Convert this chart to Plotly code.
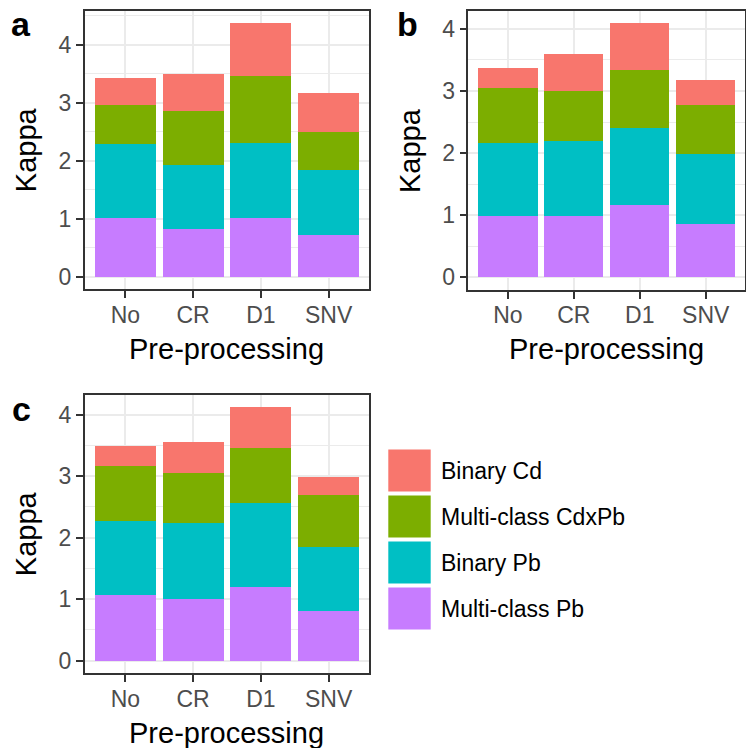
import plotly.graph_objects as go

categories = ["No", "CR", "D1", "SNV"]
series_names = ["Multi-class Pb", "Binary Pb", "Multi-class CdxPb", "Binary Cd"]  # bottom -> top
series_colors = ["#C77CFF", "#00BFC4", "#7CAE00", "#F8766D"]

# panel a
a_multi_pb = [1.02, 0.82, 1.02, 0.72]
a_binary_pb = [1.27, 1.10, 1.29, 1.12]
a_multi_cdxpb = [0.67, 0.93, 1.15, 0.66]
a_binary_cd = [0.46, 0.65, 0.91, 0.66]
# panel b
b_multi_pb = [0.99, 0.99, 1.16, 0.86]
b_binary_pb = [1.17, 1.20, 1.25, 1.12]
b_multi_cdxpb = [0.89, 0.81, 0.93, 0.80]
b_binary_cd = [0.32, 0.59, 0.75, 0.40]
# panel c
c_multi_pb = [1.07, 1.00, 1.19, 0.81]
c_binary_pb = [1.20, 1.24, 1.37, 1.04]
c_multi_cdxpb = [0.90, 0.81, 0.90, 0.85]
c_binary_cd = [0.32, 0.51, 0.66, 0.28]

panels = {
    "a": [a_multi_pb, a_binary_pb, a_multi_cdxpb, a_binary_cd],
    "b": [b_multi_pb, b_binary_pb, b_multi_cdxpb, b_binary_cd],
    "c": [c_multi_pb, c_binary_pb, c_multi_cdxpb, c_binary_cd],
}
y_ticks = [0, 1, 2, 3, 4]

W, H = 746, 748
def px(x):
    return x / W
def py(y):
    return 1 - y / H

FONT = "Liberation Sans, Arial, sans-serif"
# panel domains in pixels: (left, right, top, bottom)
boxes = {
    "a": (84.7, 369.3, 10.7, 289.3),
    "b": (468.3, 745.3, 10.7, 289.8),
    "c": (84.7, 369.3, 394.7, 673.3),
}

fig = go.Figure()
layout = dict(
    width=W, height=H, margin=dict(l=0, r=0, t=0, b=0),
    paper_bgcolor="white", plot_bgcolor="white",
    barmode="stack", bargap=0.1, showlegend=False,
    font=dict(family=FONT),
)
annotations = []
shapes = []

for i, (key, vals) in enumerate(panels.items()):
    n = "" if i == 0 else str(i + 1)
    xa, ya = "x" + n, "y" + n
    for name, color, v in zip(series_names, series_colors, vals):
        fig.add_trace(go.Bar(x=categories, y=v, name=name, marker=dict(color=color, line=dict(width=0)),
                             xaxis=xa, yaxis=ya, showlegend=False))
    totals = [sum(t) for t in zip(*vals)]
    ymax = max(totals)
    l, r, t, b = boxes[key]
    axis_common = dict(showline=True, mirror=True, linecolor="#333333", linewidth=1.5,
                       ticks="outside", ticklen=7, tickwidth=1.5, tickcolor="#333333",
                       tickfont=dict(family=FONT, size=23, color="#4D4D4D"),
                       showgrid=True, gridcolor="#EBEBEB", gridwidth=1.5, zeroline=False)
    layout["xaxis" + n] = dict(axis_common, domain=[px(l), px(r)], anchor=ya,
                               type="category", categoryorder="array", categoryarray=categories,
                               range=[-0.6, len(categories) - 0.4], ticklabelstandoff=-3)
    layout["yaxis" + n] = dict(axis_common, domain=[py(b), py(t)], anchor=xa,
                               range=[-0.05 * ymax, 1.05 * ymax], tickvals=y_ticks,
                               minor=dict(dtick=0.5, tick0=0, showgrid=True, gridcolor="#EBEBEB",
                                          gridwidth=0.8, ticks=""))
    cx = (l + r) / 2
    cy = (t + b) / 2
    annotations.append(dict(text="Pre-processing", xref="paper", yref="paper", x=px(cx), y=py(b + 59.5),
                            xanchor="center", yanchor="middle", showarrow=False,
                            font=dict(family=FONT, size=29, color="black")))
    annotations.append(dict(text="Kappa", xref="paper", yref="paper", x=px(l - 58.5), y=py(cy),
                            xanchor="center", yanchor="middle", textangle=-90, showarrow=False,
                            font=dict(family=FONT, size=29, color="black")))

# panel letters
for letter, (lx, ly) in {"a": (21, 24), "b": (407, 24), "c": (21, 409)}.items():
    annotations.append(dict(text="<b>%s</b>" % letter, xref="paper", yref="paper", x=px(lx), y=py(ly),
                            xanchor="center", yanchor="middle", showarrow=False,
                            font=dict(family=FONT, size=34, color="black")))

# legend (top to bottom: reversed stack order)
legend_top = 449.5
for k, (name, color) in enumerate(zip(series_names[::-1], series_colors[::-1])):
    y0 = legend_top + k * 46
    shapes.append(dict(type="rect", xref="paper", yref="paper", x0=px(388.3), x1=px(430.7),
                       y0=py(y0 + 42), y1=py(y0), fillcolor=color, line=dict(width=0)))
    annotations.append(dict(text=name, xref="paper", yref="paper", x=px(439), y=py(y0 + 21),
                            xanchor="left", yanchor="middle", showarrow=False,
                            font=dict(family=FONT, size=23, color="black")))

layout["annotations"] = annotations
layout["shapes"] = shapes
fig.update_layout(**layout)
fig.write_html("out.html")
